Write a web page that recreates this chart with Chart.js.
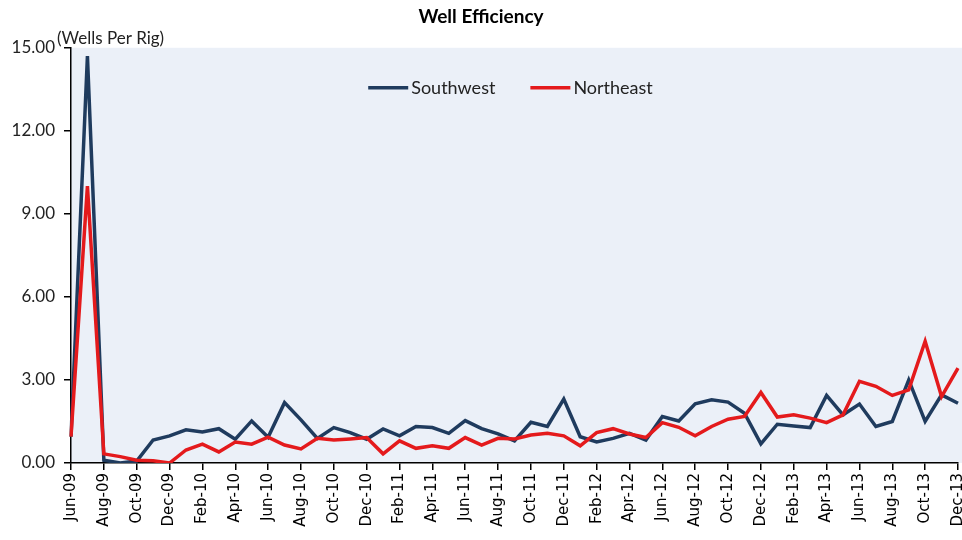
<!DOCTYPE html>
<html>
<head>
<meta charset="utf-8">
<script src="https://cdn.jsdelivr.net/npm/chart.js@4.4.0/dist/chart.umd.min.js"></script>
<style>
html,body{margin:0;padding:0;background:#fff;}
</style>
</head>
<body>
<canvas id="myChart" width="962" height="540"></canvas>
<script>
var months = [
  "Jun-09","Jul-09","Aug-09","Sep-09","Oct-09","Nov-09","Dec-09",
  "Jan-10","Feb-10","Mar-10","Apr-10","May-10","Jun-10","Jul-10","Aug-10","Sep-10","Oct-10","Nov-10","Dec-10",
  "Jan-11","Feb-11","Mar-11","Apr-11","May-11","Jun-11","Jul-11","Aug-11","Sep-11","Oct-11","Nov-11","Dec-11",
  "Jan-12","Feb-12","Mar-12","Apr-12","May-12","Jun-12","Jul-12","Aug-12","Sep-12","Oct-12","Nov-12","Dec-12",
  "Jan-13","Feb-13","Mar-13","Apr-13","May-13","Jun-13","Jul-13","Aug-13","Sep-13","Oct-13","Nov-13","Dec-13"
];
var southwest = [0.95,14.7,0.1,0.0,0.07,0.83,0.98,1.2,1.12,1.24,0.86,1.52,0.93,2.18,1.56,0.89,1.28,1.1,0.86,
  1.23,0.98,1.32,1.28,1.07,1.53,1.24,1.05,0.8,1.47,1.32,2.31,0.95,0.76,0.89,1.07,0.83,1.68,1.52,2.14,2.28,2.2,
  1.8,0.69,1.4,1.34,1.28,2.44,1.74,2.13,1.32,1.5,3.0,1.5,2.46,2.16];
var northeast = [0.95,10.0,0.33,0.23,0.1,0.08,0.0,0.47,0.68,0.4,0.76,0.68,0.93,0.65,0.51,0.89,0.83,0.87,0.92,
  0.33,0.8,0.53,0.62,0.53,0.92,0.65,0.89,0.87,1.01,1.07,0.98,0.62,1.1,1.24,1.05,0.92,1.46,1.29,0.98,1.32,1.58,
  1.68,2.55,1.66,1.74,1.62,1.46,1.74,2.95,2.77,2.44,2.64,4.4,2.4,3.43];
var yMin = 0, yMax = 15, yStep = 3;

// light blue plot background, unit label and a one-row legend inside the plot
var plotBg = {
  id: "plotBg",
  beforeDraw: function(chart){
    var a = chart.chartArea, ctx = chart.ctx;
    ctx.save();
    ctx.fillStyle = "#EBF0F8";
    ctx.fillRect(a.left, a.top, chart.width - a.left, a.bottom - a.top);
    ctx.restore();
  },
  afterDraw: function(chart){
    var ctx = chart.ctx, a = chart.chartArea;
    ctx.save();
    ctx.font = "17px Lato";
    ctx.fillStyle = "#222";
    ctx.textBaseline = "middle";
    ctx.fillText("(Wells Per Rig)", 57, 39);

    // legend row
    var ds = chart.data.datasets;
    var lineLen = 40, gapText = 3, gapItem = 35, y = a.top + 40;
    ctx.font = "18px Lato";
    var total = 0;
    ds.forEach(function(d, i){
      total += lineLen + gapText + ctx.measureText(d.label).width;
      if (i > 0) total += gapItem;
    });
    var x = (a.left + a.right) / 2 - total / 2 - 4;
    ds.forEach(function(d){
      ctx.strokeStyle = d.borderColor;
      ctx.lineWidth = d.borderWidth;
      ctx.beginPath();
      ctx.moveTo(x, y);
      ctx.lineTo(x + lineLen, y);
      ctx.stroke();
      x += lineLen + gapText;
      ctx.fillStyle = "#222";
      ctx.fillText(d.label, x, y);
      x += ctx.measureText(d.label).width + gapItem;
    });
    ctx.restore();
  }
};

new Chart(document.getElementById("myChart"), {
  type: "line",
  data: {
    labels: months,
    datasets: [
      {
        label: "Southwest",
        data: southwest,
        borderColor: "#1F3B5E",
        backgroundColor: "#1F3B5E",
        borderWidth: 3.5,
        pointRadius: 0,
        tension: 0,
        order: 1
      },
      {
        label: "Northeast",
        data: northeast,
        borderColor: "#E41A1C",
        backgroundColor: "#E41A1C",
        borderWidth: 3.5,
        pointRadius: 0,
        tension: 0,
        order: 0
      }
    ]
  },
  options: {
    responsive: false,
    animation: false,
    devicePixelRatio: 1,
    layout: {padding: 0},
    plugins: {
      title: {
        display: true,
        text: "Well Efficiency",
        color: "#000",
        font: {family: "Lato", size: 19, weight: "bold"},
        padding: {top: 5, bottom: 20}
      },
      legend: {display: false},
      tooltip: {enabled: false}
    },
    scales: {
      x: {
        offset: false,
        grid: {drawOnChartArea: false, drawTicks: true, tickLength: 7, color: "#000", lineWidth: 1.5},
        border: {color: "#000", width: 1.5},
        ticks: {
          autoSkip: false,
          minRotation: 90,
          maxRotation: 90,
          padding: 3,
          color: "#000",
          font: {family: "DejaVu Sans", size: 15},
          callback: function(v, i){ return i % 2 === 0 ? months[i] : null; }
        },
        afterFit: function(scale){
          scale.height = 77;
          scale.paddingRight = 4;
        }
      },
      y: {
        min: yMin,
        max: yMax,
        grid: {drawOnChartArea: false, drawTicks: true, tickLength: 7, color: "#000", lineWidth: 1.5},
        border: {color: "#000", width: 1.5},
        ticks: {
          stepSize: yStep,
          padding: 9,
          color: "#222",
          font: {family: "Lato", size: 17},
          callback: function(v){ return v.toFixed(2); }
        },
        afterFit: function(scale){ scale.width = 71; }
      }
    }
  },
  plugins: [plotBg]
});
</script>
</body>
</html>
